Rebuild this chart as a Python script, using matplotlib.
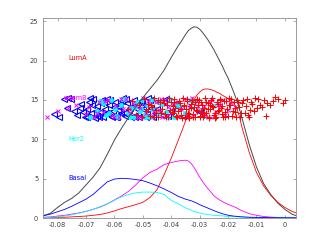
import numpy as np
import matplotlib
matplotlib.use('Agg')
from matplotlib import pyplot as plt

# density curves
xs = [-0.085, -0.0825, -0.08, -0.0775, -0.075, -0.0725, -0.07, -0.0675, -0.065, -0.0625,
      -0.06, -0.0575, -0.055, -0.0525, -0.05, -0.0475, -0.045, -0.0425, -0.04, -0.0375,
      -0.036, -0.035, -0.034, -0.033, -0.032, -0.031, -0.030, -0.029, -0.028, -0.027,
      -0.026, -0.025, -0.024, -0.023, -0.022, -0.021, -0.020, -0.019, -0.018, -0.017,
      -0.016, -0.015, -0.0125, -0.01, -0.0075, -0.005, -0.0025, 0.0, 0.0025, 0.004]
all_y = [0.3, 0.6, 1.35, 2.0, 2.5, 3.2, 4.2, 5.2, 6.4, 8.1,
         9.9, 11.4, 12.8, 14.1, 15.3, 16.4, 17.5, 18.8, 20.4, 21.9,
         22.7, 23.3, 23.8, 24.1, 24.3, 24.25, 24.0, 23.6, 23.1, 22.6,
         22.0, 21.4, 20.7, 20.0, 19.3, 18.5, 17.8, 16.9, 16.0, 15.0,
         13.9, 12.6, 9.3, 6.5, 4.4, 3.0, 1.9, 1.1, 0.5, 0.3]
luma_curve = [0.0, 0.05, 0.1, 0.1, 0.15, 0.2, 0.25, 0.35, 0.45, 0.65,
              0.9, 1.2, 1.45, 1.7, 2.0, 2.6, 3.6, 5.5, 7.6, 9.9,
              11.3, 12.3, 13.3, 14.2, 15.0, 15.6, 16.0, 16.3, 16.4, 16.4,
              16.3, 16.2, 16.0, 15.85, 15.6, 15.4, 15.2, 14.9, 14.6, 14.0,
              12.9, 11.4, 8.3, 5.8, 4.1, 2.9, 2.0, 1.35, 0.85, 0.65]
lumb_curve = [0.1, 0.15, 0.25, 0.35, 0.5, 0.65, 0.85, 1.1, 1.4, 1.8,
              2.3, 2.8, 3.4, 4.2, 5.1, 5.8, 6.2, 6.8, 7.05, 7.25,
              7.32, 7.35, 7.25, 6.95, 6.45, 5.85, 5.2, 4.65, 4.15, 3.7,
              3.3, 2.85, 2.55, 2.3, 2.1, 1.9, 1.75, 1.6, 1.45, 1.3,
              1.1, 0.92, 0.55, 0.35, 0.2, 0.12, 0.08, 0.05, 0.03, 0.02]
her2_curve = [0.05, 0.1, 0.15, 0.25, 0.4, 0.6, 0.85, 1.1, 1.45, 1.8,
              2.25, 2.7, 3.0, 3.2, 3.3, 3.3, 3.25, 3.0, 2.25, 1.8,
              1.5, 1.3, 1.15, 1.0, 0.85, 0.75, 0.65, 0.57, 0.5, 0.45,
              0.4, 0.35, 0.32, 0.3, 0.27, 0.24, 0.22, 0.2, 0.18, 0.16,
              0.14, 0.12, 0.1, 0.08, 0.06, 0.05, 0.04, 0.03, 0.02, 0.02]
basal_curve = [0.3, 0.5, 0.8, 1.1, 1.5, 1.95, 2.4, 3.0, 3.8, 4.6,
               4.95, 5.05, 5.0, 4.9, 4.75, 4.45, 4.1, 3.7, 3.25, 2.75,
               2.55, 2.4, 2.3, 2.2, 2.05, 1.9, 1.7, 1.55, 1.4, 1.25,
               1.1, 0.95, 0.8, 0.68, 0.55, 0.45, 0.36, 0.3, 0.25, 0.22,
               0.18, 0.15, 0.1, 0.08, 0.06, 0.05, 0.04, 0.03, 0.03, 0.02]

# samples shown as a strip
basal_x = [-0.0812, -0.0796, -0.0779, -0.0768, -0.0765, -0.0754, -0.0742, -0.0730, -0.0718, -0.0705,
           -0.0698, -0.0690, -0.0682, -0.0674, -0.0668, -0.0660, -0.0652, -0.0645, -0.0640, -0.0633,
           -0.0625, -0.0618, -0.0611, -0.0604, -0.0598, -0.0590, -0.0584, -0.0577, -0.0570, -0.0563,
           -0.0556, -0.0548, -0.0540, -0.0532, -0.0525, -0.0517, -0.0508, -0.0499, -0.0490, -0.0481,
           -0.0470, -0.0458, -0.0446, -0.0432, -0.0418, -0.0402, -0.0385, -0.0360, -0.0330, -0.0300,
           -0.0662, -0.0648, -0.0622, -0.0608, -0.0588, -0.0572, -0.0553, -0.0536, -0.0513, -0.0494,
           -0.0722, -0.0712, -0.0695, -0.0686, -0.0678, -0.0665, -0.0655, -0.0637, -0.0629, -0.0615,
           -0.0601, -0.0593, -0.0580, -0.0566, -0.0559, -0.0544, -0.0528, -0.0520, -0.0504, -0.0486,
           -0.0475, -0.0463, -0.0450, -0.0426, -0.0410]
basal_y = [13.2, 12.8, 15.1, 14.0, 15.2, 15.1, 13.6, 13.1, 14.5, 12.9,
           13.8, 14.7, 13.3, 15.1, 12.7, 14.2, 13.5, 15.0, 12.9, 13.9,
           15.1, 14.4, 13.0, 13.6, 14.8, 12.8, 14.1, 13.4, 15.2, 13.0,
           14.6, 13.7, 12.9, 15.0, 14.3, 13.2, 14.9, 13.8, 12.8, 15.2,
           14.0, 13.4, 14.7, 13.1, 15.1, 13.6, 14.4, 13.0, 14.2, 13.5,
           13.0, 14.6, 13.3, 12.9, 13.7, 14.9, 13.1, 14.2, 12.8, 14.0,
           14.0, 13.5, 12.9, 15.2, 14.3, 13.6, 12.8, 14.8, 13.4, 15.0,
           14.1, 12.8, 14.5, 13.3, 15.1, 14.0, 12.9, 13.8, 14.6, 13.2,
           15.0, 12.9, 13.9, 14.8, 13.0]
her2_x = [-0.0685, -0.0660, -0.0641, -0.0628, -0.0612, -0.0598, -0.0586, -0.0575, -0.0561, -0.0552,
          -0.0540, -0.0531, -0.0522, -0.0511, -0.0503, -0.0494, -0.0485, -0.0476, -0.0468, -0.0455,
          -0.0444, -0.0433, -0.0420, -0.0405, -0.0390, -0.0372, -0.0350, -0.0320, -0.0285, -0.0250,
          -0.0650, -0.0620, -0.0593, -0.0568, -0.0545, -0.0526, -0.0507, -0.0490, -0.0472, -0.0450,
          -0.0438, -0.0412, -0.0380, -0.0338, -0.0300]
her2_y = [12.9, 13.6, 14.6, 13.1, 15.0, 13.9, 12.8, 14.4, 15.1, 13.3,
          14.0, 12.9, 14.8, 13.6, 15.0, 13.2, 14.3, 12.8, 13.8, 14.9,
          13.1, 14.5, 13.5, 15.1, 12.9, 14.1, 13.4, 14.7, 13.0, 14.2,
          14.9, 13.4, 13.0, 15.1, 12.8, 14.1, 13.9, 12.9, 15.0, 13.6,
          14.7, 12.9, 14.4, 15.0, 13.7]
lumb_x = [-0.0838, -0.0770, -0.0762, -0.0748, -0.0735, -0.0700, -0.0672, -0.0655, -0.0640, -0.0623,
          -0.0610, -0.0596, -0.0583, -0.0570, -0.0558, -0.0545, -0.0533, -0.0521, -0.0510, -0.0498,
          -0.0487, -0.0476, -0.0465, -0.0454, -0.0443, -0.0432, -0.0421, -0.0410, -0.0399, -0.0388,
          -0.0377, -0.0366, -0.0355, -0.0344, -0.0333, -0.0322, -0.0310, -0.0298, -0.0285, -0.0272,
          -0.0258, -0.0243, -0.0228, -0.0210, -0.0190,
          -0.0800, -0.0690, -0.0662, -0.0632, -0.0602, -0.0577, -0.0550, -0.0527, -0.0503, -0.0481,
          -0.0459, -0.0437, -0.0415, -0.0393, -0.0371, -0.0349, -0.0327, -0.0304, -0.0280, -0.0265,
          -0.0250, -0.0235, -0.0218, -0.0200, -0.0175]
lumb_y = [12.9, 15.2, 14.0, 15.3, 14.4, 13.2, 12.9, 14.7, 13.5, 15.0,
          13.1, 14.2, 12.8, 13.9, 15.1, 13.4, 14.6, 12.9, 14.0, 15.2,
          13.3, 14.5, 13.0, 14.8, 13.7, 12.9, 15.0, 14.1, 13.4, 14.7,
          12.8, 13.9, 15.1, 13.2, 14.4, 13.0, 14.9, 13.6, 14.2, 12.9,
          15.0, 13.5, 14.3, 13.1, 14.6,
          13.6, 14.1, 13.3, 14.9, 12.8, 15.1, 13.8, 14.4, 12.9, 14.9,
          13.6, 15.1, 13.0, 14.5, 13.9, 12.8, 15.2, 14.2, 13.3, 14.8,
          12.9, 14.4, 15.0, 13.7, 14.1]
luma_x = [-0.0552, -0.0538, -0.0525, -0.0514, -0.0502, -0.0495, -0.0488, -0.0480, -0.0473, -0.0466,
          -0.0459, -0.0452, -0.0446, -0.0440, -0.0434, -0.0428, -0.0422, -0.0416, -0.0410, -0.0405,
          -0.0400, -0.0395, -0.0390, -0.0385, -0.0380, -0.0375, -0.0370, -0.0365, -0.0360, -0.0356,
          -0.0352, -0.0348, -0.0344, -0.0340, -0.0336, -0.0332, -0.0328, -0.0324, -0.0320, -0.0316,
          -0.0312, -0.0308, -0.0304, -0.0300, -0.0296, -0.0292, -0.0288, -0.0284, -0.0280, -0.0276,
          -0.0272, -0.0268, -0.0264, -0.0260, -0.0255, -0.0250, -0.0245, -0.0240, -0.0235, -0.0230,
          -0.0225, -0.0220, -0.0215, -0.0210, -0.0204, -0.0198, -0.0192, -0.0186, -0.0180, -0.0174,
          -0.0168, -0.0162, -0.0158, -0.0150, -0.0142, -0.0135, -0.0130, -0.0123, -0.0115, -0.0105,
          -0.0098, -0.0088, -0.0075, -0.0063, -0.0053, -0.0042, -0.0035, -0.0025, -0.0007, 0.0002,
          -0.0470, -0.0462, -0.0455, -0.0448, -0.0437, -0.0425, -0.0418, -0.0408, -0.0398, -0.0392,
          -0.0382, -0.0372, -0.0367, -0.0362, -0.0354, -0.0346, -0.0338, -0.0330, -0.0322, -0.0318,
          -0.0310, -0.0302, -0.0298, -0.0290, -0.0286, -0.0278, -0.0270, -0.0266, -0.0258, -0.0252,
          -0.0247, -0.0242, -0.0237, -0.0232, -0.0227, -0.0222, -0.0217, -0.0212, -0.0207, -0.0201,
          -0.0195, -0.0189, -0.0183, -0.0177, -0.0171, -0.0165, -0.0155, -0.0146, -0.0138, -0.0127,
          -0.0118, -0.0110, -0.0093, -0.0080, -0.0068, -0.0480, -0.0390, -0.0342, -0.0294, -0.0262]
luma_y = [13.8, 14.9, 13.1, 14.3, 12.9, 15.1, 13.6, 14.5, 13.0, 14.1,
          15.2, 13.4, 12.8, 14.7, 13.9, 15.0, 13.2, 14.4, 12.9, 13.7,
          14.8, 13.3, 15.1, 14.0, 12.8, 13.6, 14.6, 13.1, 15.2, 14.2,
          12.9, 13.8, 14.9, 13.4, 12.7, 14.5, 15.0, 13.2, 14.1, 12.9,
          13.7, 15.1, 14.3, 13.0, 14.8, 13.5, 12.8, 14.0, 15.2, 13.3,
          14.6, 12.9, 13.9, 15.0, 14.2, 13.1, 12.7, 14.7, 13.6, 15.1,
          14.0, 13.2, 14.9, 12.8, 13.8, 15.2, 14.4, 13.0, 14.8, 13.5,
          15.0, 14.1, 12.8, 14.6, 13.4, 15.1, 13.1, 13.7, 14.5, 15.2,
          14.0, 14.4, 15.0, 14.6, 14.4, 14.9, 15.4, 15.1, 14.6, 15.0,
          14.4, 12.9, 13.7, 15.0, 13.3, 14.6, 12.8, 15.2, 13.5, 14.2,
          13.0, 14.9, 13.8, 12.7, 14.4, 15.1, 13.2, 14.0, 12.9, 14.7,
          13.6, 15.0, 12.8, 14.3, 13.1, 14.8, 13.9, 12.7, 15.2, 14.1,
          13.4, 12.9, 14.5, 13.7, 15.0, 14.2, 12.8, 13.5, 14.9, 13.0,
          14.3, 15.1, 13.6, 14.0, 12.9, 14.7, 13.3, 15.0, 14.2, 12.9,
          14.8, 13.6, 15.1, 14.1, 13.0, 13.9, 14.7, 13.0, 13.6, 14.4]

labels = ['LumA', 'LumB', 'Her2', 'Basal']
label_y = [20.3, 15.2, 10.1, 5.1]
colors = ['#ff0000', '#ff00ff', '#00ffff', '#0000ff']

xticks = [-0.08, -0.07, -0.06, -0.05, -0.04, -0.03, -0.02, -0.01, 0]
yticks = [0, 5, 10, 15, 20, 25]

fig = plt.figure(figsize=(3.27, 2.45), dpi=100)
ax = fig.add_axes([0.13, 0.11, 0.775, 0.816])

# strip of samples, LumA drawn last so it sits on top
ax.plot(basal_x, basal_y, '<', color=colors[3], mfc='none', ms=4, mew=0.8)
ax.plot(her2_x, her2_y, 'o', color=colors[2], mfc=colors[2], ms=3, mew=0.5)
ax.plot(lumb_x, lumb_y, 'x', color=colors[1], ms=3.3, mew=0.7)
ax.plot(luma_x, luma_y, '+', color=colors[0], ms=4, mew=0.7)

ax.plot(xs, all_y, color='#484848', lw=0.7)
ax.plot(xs, luma_curve, color=colors[0], lw=0.6)
ax.plot(xs, lumb_curve, color=colors[1], lw=0.6)
ax.plot(xs, her2_curve, color=colors[2], lw=0.6)
ax.plot(xs, basal_curve, color=colors[3], lw=0.6)

for name, yy, c in zip(labels, label_y, colors):
    ax.text(-0.0761, yy, name, color=c, fontsize=4.8, va='center', ha='left')

ax.set_xlim(-0.0853, 0.0039)
ax.set_ylim(0, 25.4)
ax.set_xticks(xticks)
ax.set_xticklabels(['-0.08', '-0.07', '-0.06', '-0.05', '-0.04', '-0.03', '-0.02', '-0.01', '0'])
ax.set_yticks(yticks)
ax.tick_params(direction='in', length=2.5, width=0.5, labelsize=4.8, colors='0.55',
               labelcolor='0.25', top=True, right=True, pad=3)
for s in ax.spines.values():
    s.set_color('0.55')
    s.set_linewidth(0.6)

fig.savefig('out.png', dpi=100)
